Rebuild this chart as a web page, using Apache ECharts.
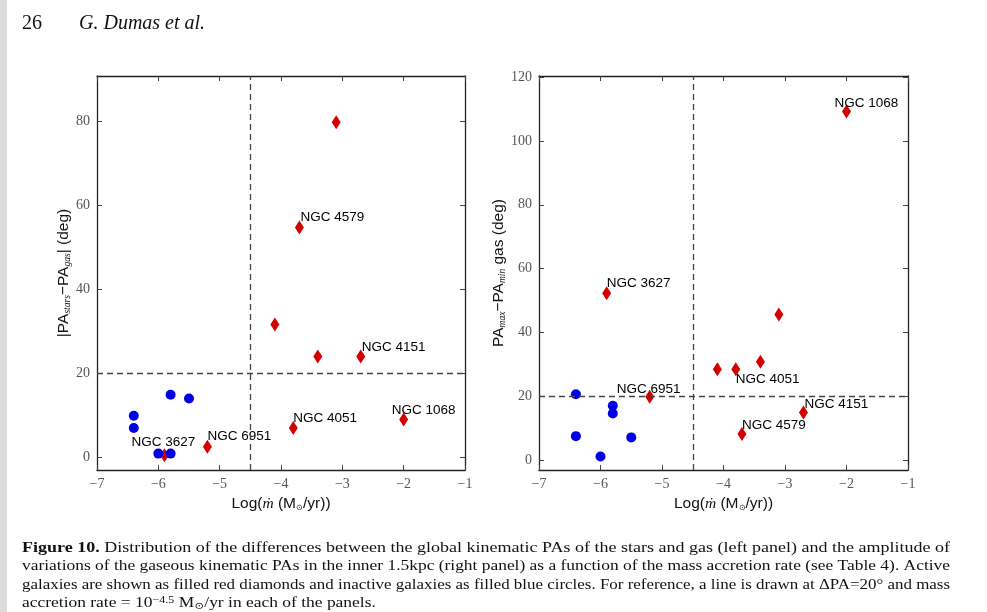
<!DOCTYPE html>
<html>
<head>
<meta charset="utf-8">
<script src="https://cdn.jsdelivr.net/npm/echarts@6/dist/echarts.min.js"></script>
<style>
  html, body { margin: 0; padding: 0; background: #fff; }
  #chart { width: 987px; height: 612px; }
</style>
</head>
<body>
<div id="chart"></div>
<script>
// tick labels
const xTicks = [-7, -6, -5, -4, -3, -2, -1];
const leftYTicks = [0, 20, 40, 60, 80];
const rightYTicks = [0, 20, 40, 60, 80, 100, 120];

// active galaxies (red diamonds), same order in both panels
const activeNames = ['NGC 1068', 'NGC 4151', 'NGC 4579', 'NGC 4051', 'NGC 6951', 'NGC 3627', '', '', ''];
const activeLogMdot = [-2.0, -2.7, -3.7, -3.8, -5.2, -5.9, -3.1, -3.4, -4.1];
const activeDeltaPA = [9, 24, 54.7, 7, 2.5, 0.5, 79.7, 24, 31.6];
const activeAmplitude = [109.2, 15, 8.3, 28.5, 19.9, 52.3, 45.7, 30.9, 28.5];

// inactive galaxies (blue circles)
const inactiveLogMdot = [-6.4, -6.4, -5.8, -5.8, -5.5, -6.0];
const inactiveDeltaPA = [9.9, 7.0, 14.9, 0.9, 14.0, 0.9];
const inactiveAmplitude = [20.7, 7.6, 17.1, 14.7, 7.2, 1.2];

// reference lines
const refLogMdot = -4.5;
const refPA = 20;

// where each name sits relative to its diamond (text bottom-left, px)
const leftLabelOffset = {
  'NGC 1068': [-12, -2], 'NGC 4151': [1, -2], 'NGC 4579': [1, -3],
  'NGC 4051': [0, -3], 'NGC 6951': [0, -4], 'NGC 3627': [-33, -6]
};
const rightLabelOffset = {
  'NGC 1068': [-12, -1], 'NGC 3627': [0, -3], 'NGC 4051': [0, 17],
  'NGC 6951': [-33, -1], 'NGC 4151': [1, -1], 'NGC 4579': [0, -2]
};

const serif = '"Liberation Serif", "DejaVu Serif", serif';
const sans = '"Liberation Sans", Arial, sans-serif';
const minus = v => String(v).replace('-', '\u2212');

const nameStyle = {
  fontFamily: sans, fontSize: 15.5, color: '#111',
  rich: {
    m: { fontFamily: serif, fontStyle: 'italic', fontSize: 15.5, color: '#111' },
    s: { fontFamily: serif, fontStyle: 'italic', fontSize: 9.5, color: '#111', verticalAlign: 'bottom', lineHeight: 8 },
    o: { fontFamily: sans, fontSize: 8, color: '#111', verticalAlign: 'bottom', lineHeight: 8 }
  }
};

function frameAxis(grid, pos, min, max, ticks, label, extra) {
  return Object.assign({
    gridIndex: grid, type: 'value', position: pos, min: min, max: max,
    axisLine: { show: true, onZero: false, lineStyle: { color: '#222', width: 1.3 } },
    axisTick: { show: true, inside: true, length: 5, customValues: ticks, lineStyle: { color: '#444' } },
    axisLabel: label ? { show: true, customValues: ticks, formatter: minus, fontFamily: serif, fontSize: 14, color: '#555', margin: 7 } : { show: false },
    splitLine: { show: false }
  }, extra || {});
}

function activeData(yValues, offsets) {
  return activeLogMdot.map((x, i) => {
    const name = activeNames[i];
    const item = { name: name, value: [x, yValues[i]] };
    if (name) {
      item.label = {
        show: true, position: 'inside', align: 'left', verticalAlign: 'bottom',
        offset: offsets[name], color: '#000', fontFamily: sans, fontSize: 13.5,
        formatter: '{b}'
      };
    }
    return item;
  });
}

function inactiveData(yValues) {
  return inactiveLogMdot.map((x, i) => [x, yValues[i]]);
}

const refLines = {
  silent: true, symbol: 'none', label: { show: false },
  lineStyle: { type: [6, 4], color: '#444', width: 1.3, opacity: 1 },
  data: [{ xAxis: refLogMdot }, { yAxis: refPA }]
};

// caption text, justified lines stretched to the column width
const captionLines = [
  '{b|Figure 10.} Distribution of the differences between the global kinematic PAs of the stars and gas (left panel) and the amplitude of',
  'variations of the gaseous kinematic PAs in the inner 1.5kpc (right panel) as a function of the mass accretion rate (see Table 4). Active',
  'galaxies are shown as filled red diamonds and inactive galaxies as filled blue circles. For reference, a line is drawn at \u0394PA=20\u00b0 and mass',
  'accretion rate = 10{sup|\u22124.5} M{sub|\u2299}/yr in each of the panels.'
];
const capSize = 14.5;
const ctx = document.createElement('canvas').getContext('2d');
function plainWidth(line) {
  let w = 0;
  line.replace(/\{(\w+)\|([^}]*)\}/g, (m, k, t) => {
    ctx.font = (k === 'b' ? 'bold ' : '') + (k === 'b' ? capSize : 10) + 'px ' + serif;
    w += ctx.measureText(t).width;
    return '';
  });
  ctx.font = capSize + 'px ' + serif;
  w += ctx.measureText(line.replace(/\{(\w+)\|([^}]*)\}/g, '')).width;
  return w;
}
const capScales = captionLines.slice(0, 3).map(l => 928 / plainWidth(l));
const avgScale = capScales.reduce((a, b) => a + b, 0) / capScales.length;
const capY = [548, 566, 585, 603];
const captionGraphics = captionLines.map((line, i) => ({
  type: 'text', x: 22, y: capY[i], scaleX: i < 3 ? capScales[i] : avgScale,
  style: {
    text: line, fill: '#111', font: capSize + 'px ' + serif, verticalAlign: 'middle',
    rich: {
      b: { fontWeight: 'bold', fontSize: capSize, fontFamily: serif, fill: '#111' },
      sup: { fontSize: 10, fontFamily: serif, verticalAlign: 'top', lineHeight: 16, fill: '#111' },
      sub: { fontSize: 10, fontFamily: serif, verticalAlign: 'bottom', lineHeight: 12, fill: '#111' }
    }
  }
}));

const chart = echarts.init(document.getElementById('chart'));
chart.setOption({
  animation: false,
  backgroundColor: '#fff',
  grid: [
    { left: 97, top: 76, width: 368, height: 394 },
    { left: 539, top: 76, width: 369, height: 394 }
  ],
  xAxis: [
    frameAxis(0, 'bottom', -7, -1, xTicks, true, {
      name: 'Log({m|\u1e41} (M{o|\u2299}/yr))', nameLocation: 'middle', nameGap: 26, nameTextStyle: nameStyle
    }),
    frameAxis(0, 'top', -7, -1, xTicks, false),
    frameAxis(1, 'bottom', -7, -1, xTicks, true, {
      name: 'Log({m|\u1e41} (M{o|\u2299}/yr))', nameLocation: 'middle', nameGap: 26, nameTextStyle: nameStyle
    }),
    frameAxis(1, 'top', -7, -1, xTicks, false)
  ],
  yAxis: [
    frameAxis(0, 'left', -3, 90.7, leftYTicks, true, {
      name: '|PA{s|stars}\u2212PA{s|gas}| (deg)', nameLocation: 'middle', nameGap: 23, nameTextStyle: nameStyle
    }),
    frameAxis(0, 'right', -3, 90.7, leftYTicks, false),
    frameAxis(1, 'left', -3, 120.3, rightYTicks, true, {
      name: 'PA{s|max}\u2212PA{s|min} gas (deg)', nameLocation: 'middle', nameGap: 28, nameTextStyle: nameStyle
    }),
    frameAxis(1, 'right', -3, 120.3, rightYTicks, false)
  ],
  series: [
    {
      type: 'scatter', xAxisIndex: 0, yAxisIndex: 0, symbol: 'diamond', symbolSize: [9, 14],
      itemStyle: { color: '#d40000', opacity: 1 }, data: activeData(activeDeltaPA, leftLabelOffset), markLine: refLines, z: 3
    },
    {
      type: 'scatter', xAxisIndex: 0, yAxisIndex: 0, symbol: 'circle', symbolSize: 10,
      itemStyle: { color: '#0000e6', opacity: 1 }, data: inactiveData(inactiveDeltaPA), z: 3
    },
    {
      type: 'scatter', xAxisIndex: 2, yAxisIndex: 2, symbol: 'diamond', symbolSize: [9, 14],
      itemStyle: { color: '#d40000', opacity: 1 }, data: activeData(activeAmplitude, rightLabelOffset), markLine: refLines, z: 3
    },
    {
      type: 'scatter', xAxisIndex: 2, yAxisIndex: 2, symbol: 'circle', symbolSize: 10,
      itemStyle: { color: '#0000e6', opacity: 1 }, data: inactiveData(inactiveAmplitude), z: 3
    }
  ],
  graphic: [
    { type: 'rect', shape: { x: 0, y: 0, width: 7, height: 612 }, style: { fill: '#dcdcdc' } },
    { type: 'text', x: 22, y: 24, style: { text: '26', font: '20px ' + serif, fill: '#111', verticalAlign: 'middle' } },
    { type: 'text', x: 79, y: 24, style: { text: 'G. Dumas et al.', font: 'italic 20px ' + serif, fill: '#111', verticalAlign: 'middle' } }
  ].concat(captionGraphics)
});
</script>
</body>
</html>
